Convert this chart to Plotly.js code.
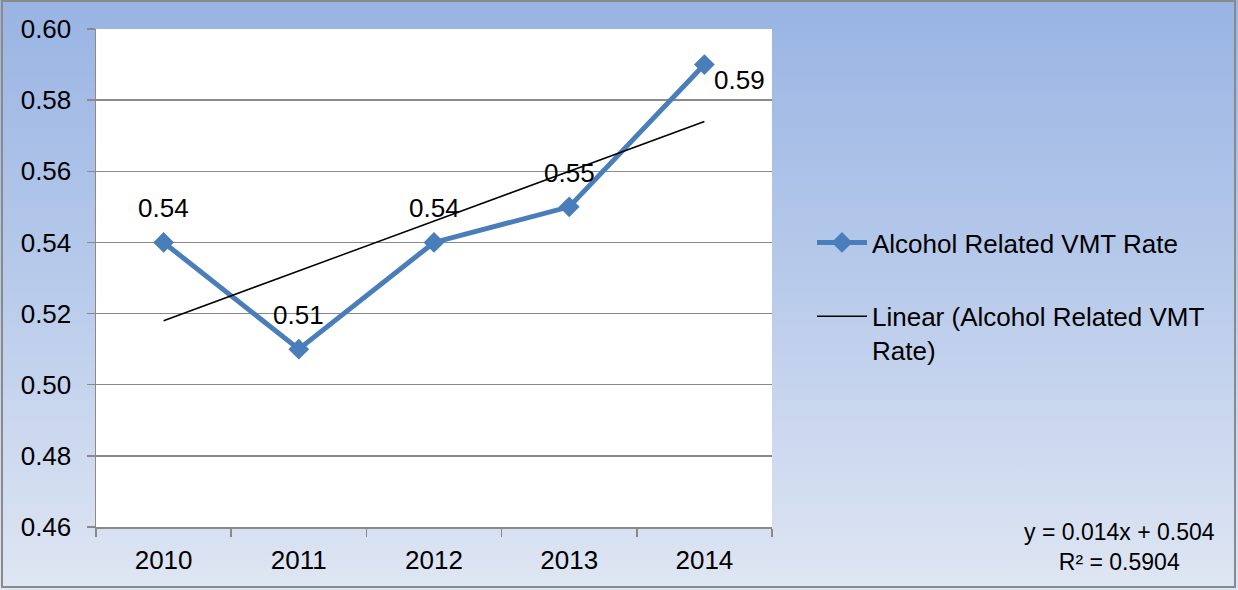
<!DOCTYPE html>
<html>
<head>
<meta charset="utf-8">
<script src="https://cdn.plot.ly/plotly-3.0.1.min.js"></script>
<style>
  html, body { margin: 0; padding: 0; }
  #wrap { position: relative; width: 1238px; height: 590px; background: linear-gradient(to bottom, #99b4e3 0%, #b6c9ea 45%, #dfe6f3 100%); }
  #chart { position: absolute; left: 0; top: 0; width: 1238px; height: 590px; }
  #frame { position: absolute; left: 1px; top: 0px; width: 1235px; height: 588px; border: 2px solid #8a8a8a; box-sizing: border-box; pointer-events: none; }
</style>
</head>
<body>
<div id="wrap"><div id="chart"></div><div id="frame"></div></div>
<script>
const years = ['2010', '2011', '2012', '2013', '2014'];
const rate = [0.54, 0.51, 0.54, 0.55, 0.59];
const trend = [0.518, 0.532, 0.546, 0.560, 0.574];
const seriesName = 'Alcohol Related VMT Rate';
const trendName = 'Linear (Alcohol Related VMT<br>Rate)';
const equationText = 'y = 0.014x + 0.504<br>R² = 0.5904';
const yTicks = [0.46, 0.48, 0.50, 0.52, 0.54, 0.56, 0.58, 0.60];

const FONT = '"Liberation Sans", Arial, sans-serif';
const FS = 26;
const W = 1238, H = 590, L = 96, R = 772, T = 29, B = 527;
const px2x = p => (p - L) / (R - L);
const px2y = p => (B - p) / (B - T);

const traces = [
  {
    x: years, y: rate, type: 'scatter', mode: 'lines+markers', name: seriesName,
    line: { color: '#4a7ebb', width: 5 },
    marker: { symbol: 'diamond', size: 16, color: '#4a7ebb' },
    legendgroup: 'a', cliponaxis: false
  },
  {
    x: years, y: trend, type: 'scatter', mode: 'lines', name: trendName,
    line: { color: '#000000', width: 1.5 },
    legendgroup: 'b'
  }
];

const annotations = rate.map((v, i) => {
  const last = i === rate.length - 1;
  return {
    x: i, y: v, xref: 'x', yref: 'y', text: v.toFixed(2), showarrow: false,
    font: { family: FONT, size: FS, color: '#000' },
    xanchor: last ? 'left' : 'center', yanchor: 'middle',
    xshift: last ? 8 : 0, yshift: last ? -15 : 34
  };
});
annotations.push({
  xref: 'paper', yref: 'paper', x: px2x(1119), y: px2y(547), text: equationText,
  showarrow: false, xanchor: 'center', yanchor: 'middle', align: 'center',
  font: { family: FONT, size: 23, color: '#000' }
});

const layout = {
  width: W, height: H,
  margin: { l: L, r: W - R, t: T, b: H - B, pad: 0 },
  paper_bgcolor: 'rgba(0,0,0,0)',
  plot_bgcolor: '#ffffff',
  font: { family: FONT, size: FS, color: '#000' },
  showlegend: true,
  legend: {
    x: px2x(812), y: px2y(219), xanchor: 'left', yanchor: 'top',
    bgcolor: 'rgba(0,0,0,0)', font: { family: FONT, size: FS, color: '#000' },
    traceorder: 'grouped', tracegroupgap: 37, valign: 'top', itemwidth: 50
  },
  xaxis: {
    type: 'category', range: [-0.5, 4.5], showgrid: false,
    showline: true, linecolor: '#8a8a8a', linewidth: 1.5,
    ticks: 'outside', tickson: 'boundaries', ticklen: 8, tickcolor: '#8a8a8a', tickwidth: 1.5,
    ticklabelstandoff: 9, tickfont: { family: FONT, size: FS, color: '#000' },
    fixedrange: true
  },
  yaxis: {
    range: [0.46, 0.60], tickvals: yTicks, tickformat: '.2f',
    showgrid: true, gridcolor: '#8a8a8a', gridwidth: 1.5,
    showline: true, linecolor: '#8a8a8a', linewidth: 1.5, zeroline: false,
    ticks: 'outside', ticklen: 8, tickcolor: '#8a8a8a', tickwidth: 1.5,
    ticklabelstandoff: 10, tickfont: { family: FONT, size: FS, color: '#000' },
    fixedrange: true
  },
  annotations: annotations
};

Plotly.newPlot('chart', traces, layout, { displayModeBar: false, staticPlot: true });
</script>
</body>
</html>
